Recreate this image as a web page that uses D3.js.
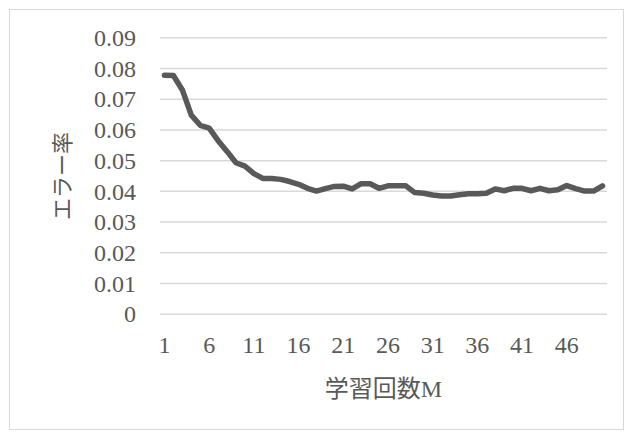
<!DOCTYPE html>
<html>
<head>
<meta charset="utf-8">
<script src="https://cdn.jsdelivr.net/npm/d3@7"></script>
<style>
  html, body { margin: 0; padding: 0; background: #fff; }
  svg { display: block; }
  text { font-family: "Liberation Serif", "Noto Sans CJK JP", serif; fill: #595959; }
</style>
</head>
<body>
<script>
// Training iterations (category axis)
const categories = [1,2,3,4,5,6,7,8,9,10,11,12,13,14,15,16,17,18,19,20,
  21,22,23,24,25,26,27,28,29,30,31,32,33,34,35,36,37,38,39,40,
  41,42,43,44,45,46,47,48,49,50];

// Error rate per iteration
const errorRate = [0.0778,0.0777,0.0730,0.0648,0.0615,0.0606,0.0565,0.0530,0.0493,0.0482,
  0.0458,0.0442,0.0442,0.0439,0.0432,0.0423,0.0410,0.0401,0.0409,0.0416,
  0.0417,0.0408,0.0425,0.0425,0.0410,0.0418,0.0418,0.0418,0.0396,0.0394,
  0.0388,0.0385,0.0385,0.0389,0.0392,0.0392,0.0394,0.0408,0.0402,0.0410,
  0.0410,0.0402,0.0410,0.0402,0.0405,0.0419,0.0409,0.0401,0.0401,0.0418];

// Axis ticks and titles
const yTicks = [0,0.01,0.02,0.03,0.04,0.05,0.06,0.07,0.08,0.09];
const yTickLabels = ["0","0.01","0.02","0.03","0.04","0.05","0.06","0.07","0.08","0.09"];
const xTickLabels = [1,6,11,16,21,26,31,36,41,46];
const xTitle = "学習回数M";
const yTitle = "エラー率";

const W = 633, H = 439;
const plot = { left: 160, right: 607, top: 37.7, bottom: 314.3 };

const svg = d3.select("body").append("svg")
  .attr("width", W).attr("height", H);

// Chart frame
svg.append("rect")
  .attr("x", 9.5).attr("y", 9.5)
  .attr("width", 614).attr("height", 420)
  .attr("fill", "#fff")
  .attr("stroke", "#d9d9d9").attr("stroke-width", 1);

const x = d3.scaleBand().domain(categories).range([plot.left, plot.right]).padding(0);
const y = d3.scaleLinear().domain([0, 0.09]).range([plot.bottom, plot.top]);

// Horizontal gridlines
svg.append("g")
  .selectAll("line").data(yTicks).join("line")
  .attr("x1", plot.left).attr("x2", plot.right)
  .attr("y1", d => y(d)).attr("y2", d => y(d))
  .attr("stroke", "#d9d9d9").attr("stroke-width", 1.5);

// Y axis labels
const yAxis = d3.axisLeft(y)
  .tickValues(yTicks)
  .tickFormat((d, i) => yTickLabels[i])
  .tickSize(0).tickPadding(24);
const gy = svg.append("g").attr("transform", `translate(${plot.left},0)`).call(yAxis);
gy.select(".domain").remove();
gy.selectAll("text").style("font-size", "24px").attr("fill", "#595959");

// X axis labels
const xAxis = d3.axisBottom(x)
  .tickValues(xTickLabels)
  .tickSize(0).tickPadding(21.5);
const gx = svg.append("g").attr("transform", `translate(0,${plot.bottom})`).call(xAxis);
gx.select(".domain").remove();
gx.selectAll("text").style("font-size", "24px").attr("fill", "#595959");

// Error-rate line
const line = d3.line()
  .x((d, i) => x(categories[i]) + x.bandwidth() / 2)
  .y(d => y(d));
svg.append("path")
  .datum(errorRate)
  .attr("d", line)
  .attr("fill", "none")
  .attr("stroke", "#595959")
  .attr("stroke-width", 5.5)
  .attr("stroke-linejoin", "round")
  .attr("stroke-linecap", "round");

// Axis titles
svg.append("text")
  .attr("x", (plot.left + plot.right) / 2).attr("y", 397)
  .attr("text-anchor", "middle")
  .style("font-size", "24px")
  .text(xTitle);

svg.append("text")
  .attr("transform", `translate(70,${(plot.top + plot.bottom) / 2}) rotate(-90)`)
  .attr("text-anchor", "middle")
  .style("font-size", "22px")
  .text(yTitle);
</script>
</body>
</html>
